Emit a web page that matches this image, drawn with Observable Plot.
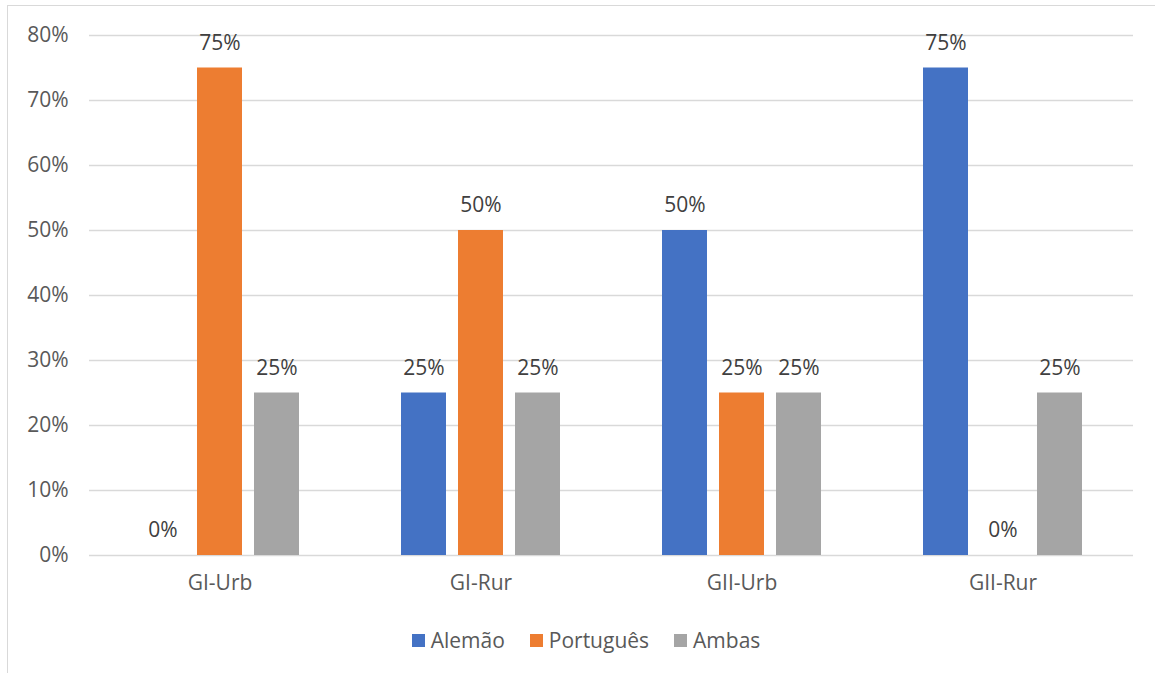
<!DOCTYPE html>
<html>
<head>
<meta charset="utf-8">
<script src="https://cdn.jsdelivr.net/npm/d3@7"></script>
<script src="https://cdn.jsdelivr.net/npm/@observablehq/plot@0.6"></script>
<style>
  html, body { margin: 0; padding: 0; background: #fff; }
  body { width: 1155px; height: 673px; position: relative; overflow: hidden; font-family: "Open Sans", sans-serif; }
  #frame { position: absolute; left: 7px; top: 5px; width: 1200px; height: 700px; border-left: 1.5px solid #d9d9d9; border-top: 1.5px solid #d9d9d9; }
  #chart { position: absolute; left: 0; top: 0; }
  #legend { position: absolute; left: 7px; width: 1158px; top: 626px; display: flex; justify-content: center; gap: 25px; font-size: 21px; color: #595959; }
  .item { display: flex; align-items: center; gap: 6px; }
  .swatch { width: 13px; height: 13px; display: inline-block; }
</style>
</head>
<body>
<div id="frame"></div>
<div id="chart"></div>
<div id="legend"></div>
<script>
// Share of answers per group, by language
const categories = ["GI-Urb", "GI-Rur", "GII-Urb", "GII-Rur"];
const series = ["Alemão", "Português", "Ambas"];
const alemao = [0, 0.25, 0.50, 0.75];
const portugues = [0.75, 0.50, 0.25, 0];
const ambas = [0.25, 0.25, 0.25, 0.25];
const yTicks = [0, 0.1, 0.2, 0.3, 0.4, 0.5, 0.6, 0.7, 0.8];
const colors = ["#4472C4", "#ED7D31", "#A5A5A5"];

const valuesBySeries = [alemao, portugues, ambas];
const rows = [];
categories.forEach((cat, i) => {
  series.forEach((s, j) => rows.push({cat, series: s, value: valuesBySeries[j][i]}));
});

const pct = d => Math.round(d * 100) + "%";
const axisColor = "#595959";
const labelColor = "#404040";
const font = "Open Sans";

const chart = Plot.plot({
  width: 1155,
  height: 610,
  marginLeft: 88,
  marginRight: 22,
  marginTop: 35,
  marginBottom: 55,
  style: {fontFamily: font, fontSize: "21px", color: axisColor, background: "transparent"},
  fx: {domain: categories, padding: 0, label: null},
  x: {domain: series, paddingInner: 0.209, paddingOuter: 0.876, axis: null},
  y: {domain: [0, 0.8], label: null},
  color: {domain: series, range: colors},
  marks: [
    Plot.ruleY(yTicks, {stroke: "#d9d9d9", strokeWidth: 1.5}),
    Plot.barY(rows, {fx: "cat", x: "series", y: "value", fill: "series"}),
    Plot.text(rows, {fx: "cat", x: "series", y: "value", text: d => pct(d.value), dy: -25, fill: labelColor, fontSize: 21}),
    Plot.axisY(yTicks, {tickSize: 0, tickPadding: 21, tickFormat: pct, label: null, fill: axisColor, fontSize: 21}),
    Plot.axisFx({anchor: "bottom", tickSize: 0, tickPadding: 20, label: null, fill: axisColor, fontSize: 21})
  ]
});
document.getElementById("chart").appendChild(chart);

// Legend
const legend = document.getElementById("legend");
series.forEach((s, i) => {
  const item = document.createElement("div");
  item.className = "item";
  const sw = document.createElement("span");
  sw.className = "swatch";
  sw.style.background = colors[i];
  const lab = document.createElement("span");
  lab.textContent = s;
  item.appendChild(sw);
  item.appendChild(lab);
  legend.appendChild(item);
});
</script>
</body>
</html>
